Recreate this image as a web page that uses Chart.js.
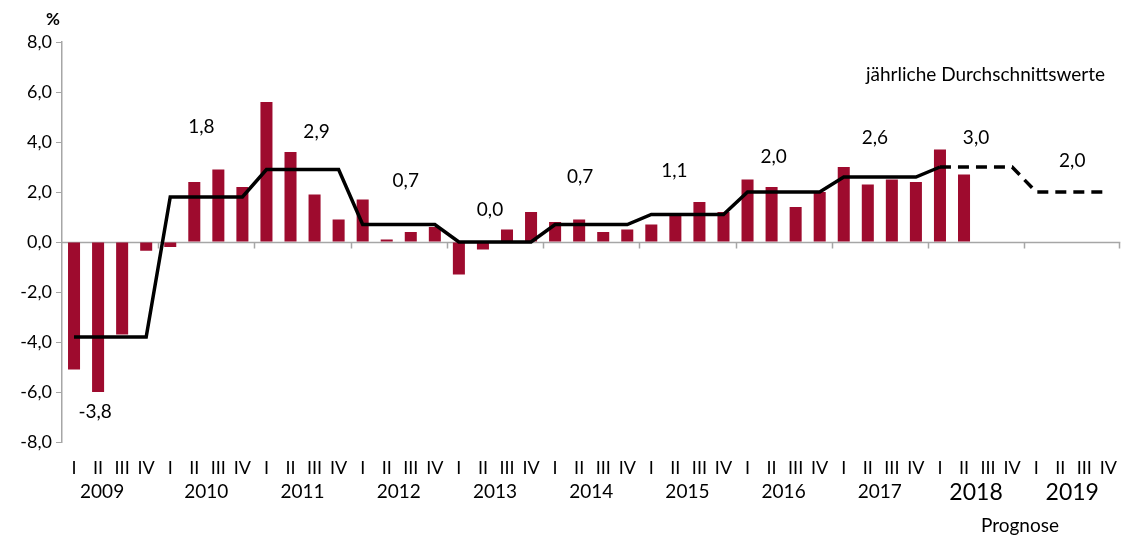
<!DOCTYPE html>
<html>
<head>
<meta charset="utf-8">
<script src="https://cdn.jsdelivr.net/npm/chart.js@4.4.1/dist/chart.umd.min.js"></script>
<style>
  html, body { margin: 0; padding: 0; background: #fff; }
</style>
</head>
<body>
<canvas id="gdpChart" width="1132" height="536"></canvas>
<script>
// Quarterly growth (%) and annual averages
const years = ["2009", "2010", "2011", "2012", "2013", "2014", "2015", "2016", "2017", "2018", "2019"];
const quarters = ["I", "II", "III", "IV"];
const quarterlyGrowth = [
  -5.1, -6.0, -3.7, -0.35,
  -0.2, 2.4, 2.9, 2.2,
  5.6, 3.6, 1.9, 0.9,
  1.7, 0.1, 0.4, 0.6,
  -1.3, -0.3, 0.5, 1.2,
  0.8, 0.9, 0.4, 0.5,
  0.7, 1.1, 1.6, 1.2,
  2.5, 2.2, 1.4, 2.0,
  3.0, 2.3, 2.5, 2.4,
  3.7, 2.7
];
const annualAverage = [-3.8, 1.8, 2.9, 0.7, 0.0, 0.7, 1.1, 2.0, 2.6, 3.0, 2.0];
const annualLabels = ["-3,8", "1,8", "2,9", "0,7", "0,0", "0,7", "1,1", "2,0", "2,6", "3,0", "2,0"];
const forecastYears = ["2018", "2019"];

const FONT = "Lato, 'Open Sans', sans-serif";
const AXIS_GREY = "#a6a6a6";
const BAR_RED = "#9e0b2e";

const categories = years.flatMap(() => quarters);
const barData = categories.map((_, i) => (i < quarterlyGrowth.length ? quarterlyGrowth[i] : null));
const lineData = years.flatMap((_, i) => quarters.map(() => annualAverage[i]));
const forecastStart = 36; // 2018 Q1: dashed from here on

// pixel offsets of the annual value labels relative to the line
const labelOffsets = [
  [-15, 75], [-5, -70], [14, -38], [7, -44], [-5, -32], [-11, -48],
  [-13, -44], [-10, -35], [-5, -39], [0, -29], [0, -31]
];

function fmt(v) {
  return v.toFixed(1).replace(".", ",");
}

const decorations = {
  id: "decorations",
  beforeDatasetsDraw(chart) {
    const { ctx, chartArea, scales } = chart;
    const x = scales.x, y = scales.y;
    const y0 = Math.round(y.getPixelForValue(0)) + 0.5;
    ctx.save();
    ctx.strokeStyle = AXIS_GREY;
    ctx.lineWidth = 1.5;
    ctx.beginPath();
    ctx.moveTo(chartArea.left, y0);
    ctx.lineTo(chartArea.right, y0);
    // year boundary ticks
    for (let i = 4; i <= categories.length; i += 4) {
      let bx;
      if (i === categories.length) bx = chartArea.right - 1;
      else bx = (x.getPixelForValue(i - 1) + x.getPixelForValue(i)) / 2;
      bx = Math.round(bx) + 0.5;
      ctx.moveTo(bx, y0);
      ctx.lineTo(bx, y0 + 6);
    }
    ctx.stroke();
    ctx.restore();
  },
  afterDatasetsDraw(chart) {
    const { ctx, scales } = chart;
    const x = scales.x, y = scales.y;
    ctx.save();
    ctx.fillStyle = "#000";
    ctx.font = "19px " + FONT;
    ctx.textAlign = "center";
    ctx.textBaseline = "middle";
    annualAverage.forEach((v, i) => {
      const mid = (x.getPixelForValue(i * 4 + 1) + x.getPixelForValue(i * 4 + 2)) / 2;
      const [dx, dy] = labelOffsets[i];
      ctx.fillText(annualLabels[i], mid + dx, y.getPixelForValue(v) + dy);
    });
    ctx.restore();
  },
  afterDraw(chart) {
    const { ctx, scales } = chart;
    const x = scales.x;
    ctx.save();
    ctx.fillStyle = "#000";
    ctx.textAlign = "center";
    ctx.textBaseline = "middle";
    years.forEach((yr, i) => {
      const mid = (x.getPixelForValue(i * 4 + 1) + x.getPixelForValue(i * 4 + 2)) / 2;
      const big = forecastYears.includes(yr);
      ctx.font = (big ? "23px " : "19px ") + FONT;
      ctx.fillText(yr, mid + (i === 0 ? -8 : 0), big ? 493 : 492);
    });
    ctx.font = "19px " + FONT;
    ctx.fillText("Prognose", 1020, 526);
    ctx.textAlign = "left";
    ctx.fillText("jährliche Durchschnittswerte", 866, 75);
    ctx.font = "bold 17px " + FONT;
    ctx.fillText("%", 46, 20);
    ctx.restore();
  }
};

const ctx = document.getElementById("gdpChart").getContext("2d");
new Chart(ctx, {
  type: "bar",
  data: {
    labels: categories,
    datasets: [
      {
        type: "line",
        label: "jährliche Durchschnittswerte",
        data: lineData,
        borderColor: "#000",
        borderWidth: 3.5,
        pointRadius: 0,
        tension: 0,
        fill: false,
        segment: {
          borderDash: (c) => (c.p0DataIndex >= forecastStart ? [11, 7] : undefined)
        },
        order: 0
      },
      {
        label: "Quartal",
        data: barData,
        backgroundColor: BAR_RED,
        categoryPercentage: 1,
        barPercentage: 0.5,
        order: 1
      }
    ]
  },
  options: {
    responsive: false,
    animation: false,
    layout: { padding: { top: 42, right: 4, left: 0, bottom: 0 } },
    plugins: {
      legend: { display: false },
      tooltip: { enabled: false }
    },
    scales: {
      x: {
        grid: { display: false, drawTicks: false },
        border: { display: false },
        ticks: {
          color: "#000",
          font: { family: FONT, size: 18 },
          padding: 15,
          maxRotation: 0,
          autoSkip: false
        },
        afterFit(scale) { scale.height = 94; }
      },
      y: {
        min: -8,
        max: 8,
        grid: { drawOnChartArea: false, color: AXIS_GREY, tickLength: 6 },
        border: { color: AXIS_GREY, width: 1.5 },
        ticks: {
          stepSize: 2,
          color: "#000",
          font: { family: FONT, size: 18 },
          padding: 4,
          callback: (v) => fmt(v)
        },
        afterFit(scale) { scale.width = 62; }
      }
    }
  },
  plugins: [decorations]
});
</script>
</body>
</html>
